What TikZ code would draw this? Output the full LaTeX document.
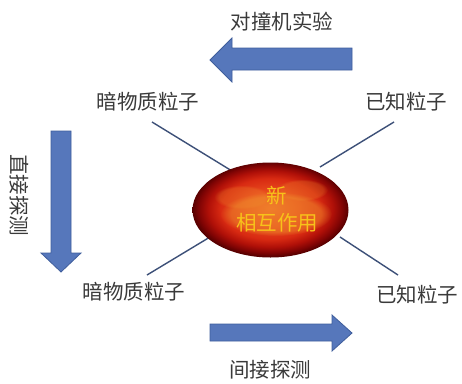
\documentclass[tikz,border=0pt]{standalone}
\usepackage{fontspec}
\newfontfamily\cjk{Noto Sans CJK SC}
\usetikzlibrary{shapes.geometric,fadings}

\definecolor{arrowfill}{HTML}{5677BB}
\definecolor{arrowline}{HTML}{3F5E9C}
\definecolor{linkline}{HTML}{3D5078}
\definecolor{labeltext}{HTML}{3A3A3A}
\definecolor{coretext}{HTML}{F7C21A}
\definecolor{fireA}{HTML}{F06A28}
\definecolor{fireB}{HTML}{E84A1E}
\definecolor{fireC}{HTML}{D82A12}
\definecolor{fireD}{HTML}{B01008}
\definecolor{fireE}{HTML}{800404}
\definecolor{fireF}{HTML}{580000}
\definecolor{glow}{HTML}{F0962E}

% glowing red core of the interaction blob
\pgfdeclareradialshading{fireball}{\pgfpoint{0bp}{1bp}}{%
  color(0bp)=(fireA); color(9bp)=(fireB); color(16bp)=(fireC);
  color(20bp)=(fireD); color(23bp)=(fireE); color(25bp)=(fireF);
  color(50bp)=(fireF)}

\begin{document}
\begin{tikzpicture}[x=1pt,y=-1pt,
  lbl/.style={font=\cjk\fontsize{20.5}{24}\selectfont, text=labeltext, inner sep=0pt},
  bigarrow/.style={fill=arrowfill, draw=arrowline, line width=0.8pt, line join=miter},
  link/.style={draw=linkline, line width=1.4pt}]
\path[use as bounding box] (0,0) rectangle (462,383);
\fill[white] (0,0) rectangle (462,383);

% block arrows
\draw[bigarrow] (352,48) -- (232,48) -- (232,38) -- (210,60) -- (232,82)
  -- (232,70) -- (352,70) -- cycle;
\draw[bigarrow] (51,131) -- (71,131) -- (71,253) -- (81,253) -- (61,272)
  -- (41,253) -- (51,253) -- cycle;
\draw[bigarrow] (210,324) -- (332,324) -- (332,315) -- (352,333) -- (332,351)
  -- (332,341) -- (210,341) -- cycle;

% arrow captions
\node[lbl] (collider) at (282,22) {对撞机实验};
\node[lbl, rotate=-90] (direct) at (19,195) {直接探测};
\node[lbl] (indirect) at (270,370) {间接探测};

% particle labels
\node[lbl] (dmTop) at (148,102) {暗物质粒子};
\node[lbl] (smTop) at (406,102) {已知粒子};
\node[lbl] (dmBot) at (134,292) {暗物质粒子};
\node[lbl] (smBot) at (417,295) {已知粒子};

% connector end points
\coordinate (tlA) at (152,122);  \coordinate (tlB) at (232,171);
\coordinate (trA) at (394,122);  \coordinate (trB) at (320,167);
\coordinate (blA) at (147,275);  \coordinate (blB) at (215,234);
\coordinate (brA) at (398,275);  \coordinate (brB) at (340,237);

\draw[link] (tlA) -- (tlB);
\draw[link] (trA) -- (trB);
\draw[link] (blA) -- (blB);
\draw[link] (brA) -- (brB);

% interaction blob
\node[ellipse, minimum width=156pt, minimum height=95pt, inner sep=0pt,
  shading=fireball] (core) at (270.5,210) {};
\begin{scope}
  \clip (270.5,210) ellipse (74 and 43);
  \fill[glow, fill opacity=0.45, path fading=circle with fuzzy edge 20 percent]
    (276,214) ellipse (56 and 22);
  \fill[glow, fill opacity=0.25, path fading=circle with fuzzy edge 20 percent]
    (242,197) ellipse (28 and 12);
  \fill[glow, fill opacity=0.25, path fading=circle with fuzzy edge 20 percent]
    (302,190) ellipse (26 and 11);
\end{scope}
\node[font=\cjk\fontsize{20.5}{27}\selectfont, text=coretext, align=center,
  inner sep=0pt] (coreText) at (277,209) {新\\相互作用};
\end{tikzpicture}
\end{document}
